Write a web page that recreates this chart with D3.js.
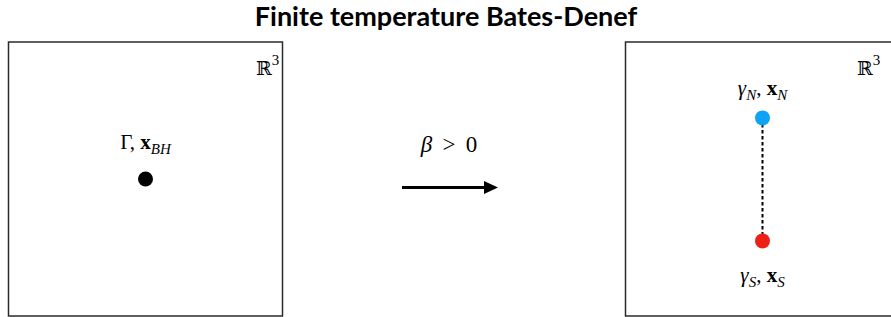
<!DOCTYPE html>
<html>
<head>
<meta charset="utf-8">
<script src="https://cdn.jsdelivr.net/npm/d3@7"></script>
<style>
  body { margin: 0; background: #fff; }
  .math { font-family: "Liberation Serif", "DejaVu Serif", serif; }
</style>
</head>
<body>
<script>
// panels, in page coords (left edge) - right one runs off the page
var panelNames = ["before", "after"];
var panelLeft = [8.5, 625.5];
var rLabelX = [256, 857];
// points inside each panel, unit coords
var pointPanel = [0, 1, 1];
var pointX = [0.5, 0.5, 0.5];
var pointY = [0.5, 0.277, 0.726];
var pointColor = ["#000000", "#0fa3f5", "#ee2015"];
var labelY = [0.39, 0.193, 0.875];
var subs = ["BH", "N", "S"];

var W = 891, H = 317, side = 274, top0 = 42;

var svg = d3.select("body").append("svg")
    .attr("width", W).attr("height", H);

svg.append("text")
    .attr("x", 446).attr("y", 26)
    .attr("text-anchor", "middle")
    .style("font-family", "Lato, 'Open Sans', sans-serif")
    .style("font-weight", "bold")
    .style("font-size", "27px")
    .text("Finite temperature Bates-Denef");

var scalesX = panelLeft.map(function (l) {
    return d3.scaleLinear().domain([0, 1]).range([l, l + side]);
});
var y = d3.scaleLinear().domain([0, 1]).range([top0, top0 + side]);

panelLeft.forEach(function (l, i) {
    svg.append("rect")
        .attr("x", l).attr("y", top0)
        .attr("width", side).attr("height", side)
        .attr("fill", "none").attr("stroke", "#2b2b2b").attr("stroke-width", 1.5);
    var t = svg.append("text")
        .attr("x", rLabelX[i]).attr("y", 75)
        .style("font-family", "'DejaVu Serif', serif")
        .style("font-size", "19px");
    t.append("tspan").text("ℝ");
    t.append("tspan").attr("dy", -10).style("font-size", "15px")
        .style("font-family", "'Liberation Serif', serif").text("3");
});

// dashed link between the two charges
svg.append("line")
    .attr("x1", scalesX[1](pointX[1])).attr("x2", scalesX[1](pointX[2]))
    .attr("y1", y(pointY[1])).attr("y2", y(pointY[2]))
    .attr("stroke", "#000").attr("stroke-width", 2)
    .attr("stroke-dasharray", "3.5,2.5");

svg.selectAll(".pt")
    .data(pointX)
    .enter().append("circle")
    .attr("cx", function (d, i) { return scalesX[pointPanel[i]](d); })
    .attr("cy", function (d, i) { return y(pointY[i]); })
    .attr("r", 7.5)
    .attr("fill", function (d, i) { return pointColor[i]; });

// labels
pointX.forEach(function (d, i) {
    var t = svg.append("text")
        .attr("class", "math")
        .attr("x", scalesX[pointPanel[i]](d))
        .attr("y", y(labelY[i]))
        .attr("text-anchor", "middle")
        .style("font-size", "21px");
    if (i === 0) {
        t.append("tspan").text("Γ, ");
    } else {
        t.append("tspan").style("font-style", "italic").text("γ");
        t.append("tspan").attr("dy", 5).style("font-style", "italic")
            .style("font-size", "15px").text(subs[i]);
        t.append("tspan").attr("dy", -5).text(", ");
    }
    t.append("tspan").style("font-weight", "bold").text("x");
    t.append("tspan").attr("dy", 5).style("font-style", "italic")
        .style("font-size", "15px").text(subs[i]);
});

// arrow
svg.append("text")
    .attr("class", "math")
    .attr("x", 449).attr("y", 152)
    .attr("text-anchor", "middle")
    .style("font-size", "23px")
    .attr("xml:space", "preserve")
    .html('<tspan font-style="italic">β</tspan>\u2009 &gt; \u20090');

svg.append("line")
    .attr("x1", 402).attr("x2", 486)
    .attr("y1", 187.5).attr("y2", 187.5)
    .attr("stroke", "#000").attr("stroke-width", 3);
svg.append("path")
    .attr("d", "M484,181 L498,187.5 L484,194 Z")
    .attr("fill", "#000");
</script>
</body>
</html>
